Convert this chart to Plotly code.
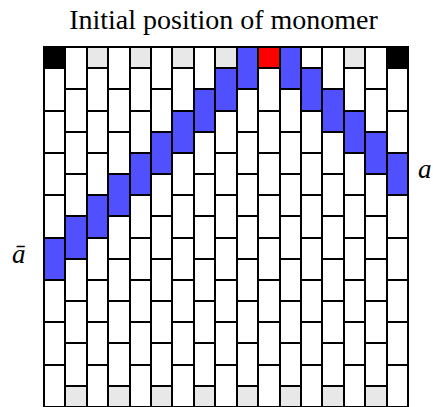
import plotly.graph_objects as go

# ---- data ----
n_cols = 17
n_units = 17
columns = list(range(n_cols))
# top row of the coloured (chain) brick in each column; None = monomer half cell
chain_rows = [9, 8, 7, 6, 5, 4, 3, 2, 1, 0, None, 0, 1, 2, 3, 4, 5]
monomer_col = 10
# colours of top half cells in even columns
top_half = {0: "black", 2: "gray", 4: "gray", 6: "gray", 8: "gray",
            10: "red", 12: "white", 14: "gray", 16: "black"}
bottom_half_odd = "gray"
title_text = "Initial position of monomer"
left_label = "ā"
right_label = "a"

COL = {"white": "#ffffff", "gray": "#e8e8e8", "black": "#000000",
       "red": "#ff0000", "blue": "#5050ff"}

# build stacked segments per column (from top)
segments = {}  # col -> list of (start, height, colour)
for c in columns:
    segs = []
    if c % 2 == 0:
        segs.append((0, 1, top_half[c]))
        start = 1
        while start < n_units:
            segs.append((start, 2, "white"))
            start += 2
    else:
        start = 0
        while start + 2 <= n_units - 1:
            segs.append((start, 2, "white"))
            start += 2
        segs.append((start, 1, bottom_half_odd))
    r = chain_rows[c]
    if r is not None:
        segs = [(s, h, "blue" if s == r else col) for (s, h, col) in segs]
    segments[c] = segs

n_layers = max(len(v) for v in segments.values())
fig = go.Figure()
for layer in range(n_layers):
    xs, ys, cs = [], [], []
    for c in columns:
        if layer < len(segments[c]):
            s, h, col = segments[c][layer]
            xs.append(c)
            ys.append(h)
            cs.append(COL[col])
    fig.add_trace(go.Bar(x=xs, y=ys, marker=dict(color=cs, line=dict(color="black", width=2)),
                         width=1, cliponaxis=False, hoverinfo="skip", showlegend=False))

serif = "Liberation Serif"
fig.update_layout(
    barmode="stack", bargap=0,
    width=433, height=407,
    margin=dict(l=43, r=24, t=45, b=0),
    paper_bgcolor="white", plot_bgcolor="white",
    xaxis=dict(range=[-0.55, 16.55], visible=False, fixedrange=True),
    yaxis=dict(range=[17, -0.1], visible=False, fixedrange=True),
    title=dict(text=title_text, x=223.5 / 433, xref="container", xanchor="center",
               y=1 - 19 / 407, yref="container", yanchor="middle",
               font=dict(family=serif, size=28, color="black")),
)
fig.add_annotation(x=0, y=10, xref="x", yref="y", text="<i>" + left_label + "</i>",
                   showarrow=False, xshift=-36, yshift=5,
                   font=dict(family=serif, size=27, color="black"))
fig.add_annotation(x=16, y=6, xref="x", yref="y", text="<i>" + right_label + "</i>",
                   showarrow=False, xshift=28, yshift=5,
                   font=dict(family=serif, size=27, color="black"))
fig.write_html("out.html", config={"displayModeBar": False},
               post_script="document.body.style.margin='0';")
